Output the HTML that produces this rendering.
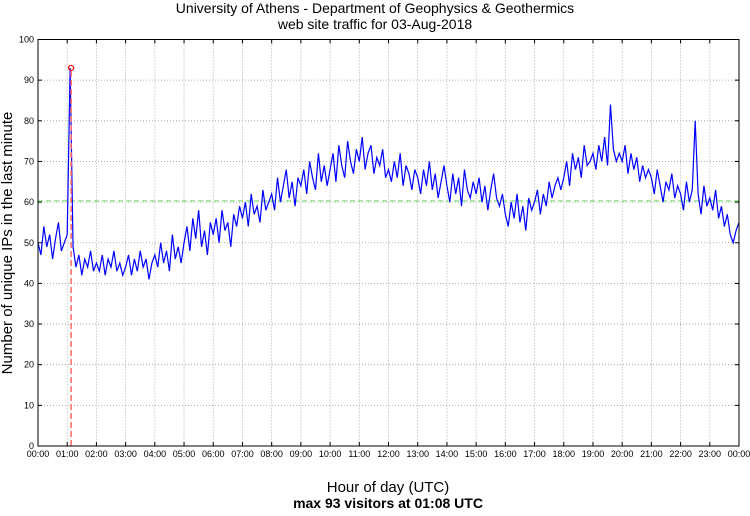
<!DOCTYPE html>
<html><head><meta charset="utf-8"><style>
body{margin:0;background:#fff;}
svg text{font-family:"Liberation Sans",sans-serif;fill:#000;}
</style></head><body>
<svg id="chart" width="750" height="511" viewBox="0 0 750 511" xmlns="http://www.w3.org/2000/svg">
<text x="375" y="13" font-size="14" text-anchor="middle">University of Athens - Department of Geophysics &amp; Geothermics</text>
<text x="375" y="29" font-size="14" text-anchor="middle">web site traffic for 03-Aug-2018</text>
<text x="388" y="492" font-size="15" text-anchor="middle">Hour of day (UTC)</text>
<text x="388" y="508" font-size="14" font-weight="bold" text-anchor="middle">max 93 visitors at 01:08 UTC</text>
<text x="0" y="0" font-size="15" text-anchor="middle" transform="translate(12,243) rotate(-90)">Number of unique IPs in the last minute</text>
<g id="grid"></g><g id="ticks"></g><g id="series"></g>
<rect x="38" y="39.5" width="701" height="406.5" fill="none" stroke="#000" stroke-width="1"/>
</svg>
<script>
const yTicks=[0,10,20,30,40,50,60,70,80,90,100];
const hourLabels=["00:00","01:00","02:00","03:00","04:00","05:00","06:00","07:00","08:00","09:00","10:00","11:00","12:00","13:00","14:00","15:00","16:00","17:00","18:00","19:00","20:00","21:00","22:00","23:00","00:00"];
const visitors=[
50,47,54,49,52,46,51,55,48,50,
52,93,49,44,47,42,46,44,48,43,
45,43,47,42,46,44,48,43,45,42,
44,47,42,46,43,48,44,46,41,45,
47,44,50,45,48,43,52,46,49,45,
50,54,48,56,51,58,49,53,47,55,
52,56,50,58,53,55,49,57,54,59,
56,60,54,62,57,59,55,63,58,60,
62,58,66,60,64,68,61,65,59,66,
64,68,62,70,66,63,72,65,69,64,
68,72,65,74,69,66,75,70,67,73,
70,76,68,72,74,67,71,69,73,66,
68,65,70,66,72,64,69,67,63,68,
66,62,68,64,70,63,67,61,65,69,
64,60,67,62,66,59,68,63,61,65,
62,66,60,64,58,63,67,61,59,62,
57,54,60,56,62,55,59,53,61,58,
60,63,57,62,59,65,61,64,66,63,
66,70,64,72,68,71,66,74,69,70,
72,68,74,70,76,69,84,73,70,72,
70,74,67,72,68,71,65,69,66,68,
66,62,68,64,60,65,63,67,61,64,
62,58,65,60,63,80,62,57,64,59,
61,58,63,56,59,54,57,52,50,53,
55];
const avgLevel=[60.3];
const maxPoint=[1+8/60,93];

const X0=38,X1=739,Y0=446,Y1=39.5;
const xs=h=>X0+(X1-X0)*h/24;
const ys=v=>Y0-(Y0-Y1)*v/100;
const NS="http://www.w3.org/2000/svg";
function mk(t,a,p){const e=document.createElementNS(NS,t);for(const k in a)e.setAttribute(k,a[k]);p.appendChild(e);return e;}
const grid=document.getElementById('grid'),ticks=document.getElementById('ticks'),series=document.getElementById('series');
yTicks.forEach(v=>{
  const y=ys(v);
  if(v>0&&v<100){const g=mk('line',{x1:X0,x2:X1,y1:y,y2:y,stroke:'#999','stroke-width':0.8,'stroke-dasharray':'1,2'},grid);
  
  }
  const t=mk('text',{x:X0-4,y:y+3,'font-size':9,'text-anchor':'end'},ticks);t.textContent=v;
  
  
  mk('line',{x1:X0,x2:X0+4,y1:y,y2:y,stroke:'#000'},ticks);
  mk('line',{x1:X1,x2:X1-4,y1:y,y2:y,stroke:'#000'},ticks);
});
hourLabels.forEach((l,i)=>{
  const x=xs(i);
  if(i>0&&i<24){const g=mk('line',{x1:x,x2:x,y1:Y1,y2:Y0,stroke:'#999','stroke-width':0.8,'stroke-dasharray':'1,2'},grid);
  
  }
  const t=mk('text',{x:x,y:Y0+11,'font-size':9,'text-anchor':'middle'},ticks);t.textContent=l;
  
  
  mk('line',{x1:x,x2:x,y1:Y0,y2:Y0-4,stroke:'#000'},ticks);
  mk('line',{x1:x,x2:x,y1:Y1,y2:Y1+4,stroke:'#000'},ticks);
});
const avg=mk('line',{x1:X0,x2:X1,y1:ys(avgLevel[0]),y2:ys(avgLevel[0]),stroke:'#6d6','stroke-width':1,'stroke-dasharray':'5,3'},series);


const n=visitors.length-1;
const pts=visitors.map((v,i)=>xs(24*i/n).toFixed(2)+','+ys(v).toFixed(2)).join(' ');
const pl=mk('polyline',{points:pts,fill:'none',stroke:'#0000ff','stroke-width':1.2},series);


const mx=xs(maxPoint[0]),my=ys(maxPoint[1]);
const ml=mk('line',{x1:mx,x2:mx,y1:Y0,y2:my,stroke:'#f66','stroke-width':1.5,'stroke-dasharray':'6,3'},series);


const mc=mk('circle',{cx:mx,cy:my,r:2.5,fill:'none',stroke:'#f00','stroke-width':1.2},series);


</script>
</body></html>
